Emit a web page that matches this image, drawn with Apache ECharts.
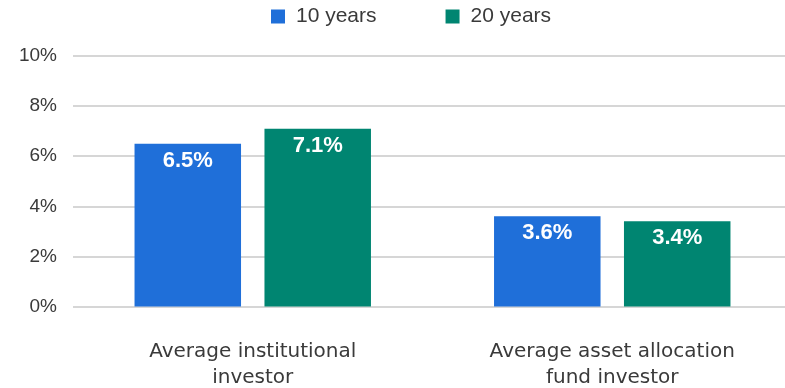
<!DOCTYPE html>
<html>
<head>
<meta charset="utf-8">
<script src="https://cdn.jsdelivr.net/npm/echarts@6/dist/echarts.min.js"></script>
<style>
  html, body { margin: 0; padding: 0; background: #ffffff; }
  #chart { width: 785px; height: 388px; }
</style>
</head>
<body>
<div id="chart"></div>
<script>
const categories = ["Average institutional\ninvestor", "Average asset allocation\nfund investor"];
const seriesNames = ["10 years", "20 years"];
const tenYears = [6.5, 3.6];
const twentyYears = [7.1, 3.4];
const yTicks = [0, 2, 4, 6, 8, 10];

const FONT = '"Liberation Sans", Arial, sans-serif';
const WIDE = '"DejaVu Sans", sans-serif';
const chart = echarts.init(document.getElementById('chart'));
chart.setOption({
  animation: false,
  backgroundColor: '#ffffff',
  textStyle: { fontFamily: FONT },
  legend: {
    top: 1,
    left: 266,
    itemWidth: 14,
    itemHeight: 14,
    itemGap: 69,
    icon: 'rect',
    textStyle: { fontSize: 21, color: '#3a3a3a', fontFamily: FONT, padding: [0, 0, 0, 6] },
    data: seriesNames
  },
  grid: { left: 73, width: 719, top: 56, bottom: 81.5, containLabel: false, outerBoundsMode: 'none' },
  xAxis: {
    type: 'category',
    data: categories,
    axisLine: { show: false },
    axisTick: { show: false },
    axisLabel: { fontSize: 20, color: '#3a3a3a', margin: 32, lineHeight: 26, fontFamily: WIDE }
  },
  yAxis: {
    type: 'value',
    min: yTicks[0],
    max: yTicks[yTicks.length - 1],
    interval: 2,
    axisLine: { show: false },
    axisTick: { show: false },
    axisLabel: { fontSize: 19, color: '#3a3a3a', margin: 16, formatter: v => v + '%', fontFamily: FONT },
    splitLine: { lineStyle: { color: '#d6d6d6', width: 2 } }
  },
  series: [
    {
      name: seriesNames[0],
      type: 'bar',
      data: tenYears,
      barWidth: 106.5,
      barGap: '22%',
      itemStyle: { color: '#1f6fd9' },
      label: { show: true, position: 'insideTop', distance: 6, formatter: p => p.value.toFixed(1) + '%', color: '#ffffff', fontWeight: 'bold', fontSize: 22, fontFamily: FONT }
    },
    {
      name: seriesNames[1],
      type: 'bar',
      data: twentyYears,
      barWidth: 106.5,
      barGap: '22%',
      itemStyle: { color: '#008571' },
      label: { show: true, position: 'insideTop', distance: 6, formatter: p => p.value.toFixed(1) + '%', color: '#ffffff', fontWeight: 'bold', fontSize: 22, fontFamily: FONT }
    }
  ]
});
</script>
</body>
</html>
